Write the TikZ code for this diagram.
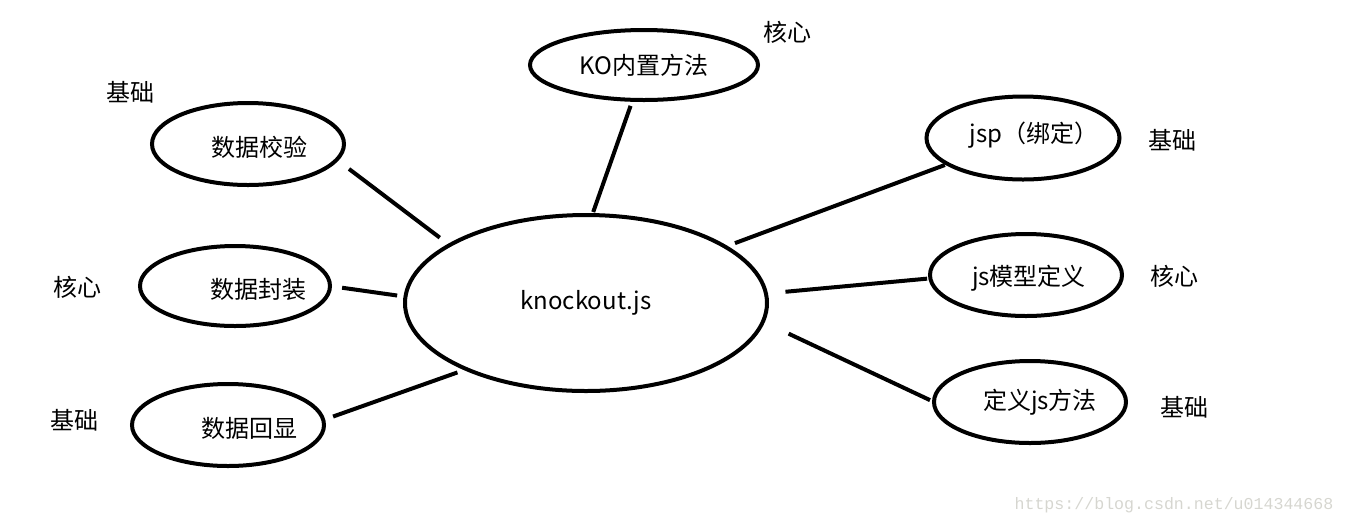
\documentclass[tikz,border=0pt]{standalone}
\usepackage{fontspec}
\setmainfont{Noto Sans CJK SC}
\setmonofont{Liberation Mono}
\usepackage{tikz}
\usetikzlibrary{shapes.geometric}
\definecolor{ink}{RGB}{0,0,0}
\definecolor{wmark}{RGB}{214,214,208}

\begin{document}
\begin{tikzpicture}[
    x=0.5pt, y=-0.5pt,
    bub/.style={ellipse, draw=ink, line width=2pt, inner sep=0pt, outer sep=0pt,
                minimum width=96pt, minimum height=41pt},
    txt/.style={font=\fontsize{12}{14}\selectfont, text=ink},
    tag/.style={font=\fontsize{12}{14}\selectfont, text=ink},
    link/.style={draw=ink, line width=2pt},
    wm/.style={font=\ttfamily\fontsize{8.3}{10}\selectfont, text=wmark}
  ]
  \useasboundingbox (0,0) rectangle (1346,527);
  % hub
  \node[bub, txt, minimum width=181pt, minimum height=88pt] (core) at (586,303) {knockout.js};

  % branches
  \node[bub, txt, minimum width=114pt, minimum height=35pt] (ko) at (644,65) {KO内置方法};
  \node[bub, label={[txt, xshift=5.5pt, yshift=-1.5pt]center:数据校验}] (chk) at (248,144) {};
  \node[bub, minimum width=95pt, minimum height=40pt,
        label={[txt, xshift=11.5pt, yshift=-1.5pt]center:数据封装}] (pack) at (235,286) {};
  \node[bub, label={[txt, xshift=10.5pt, yshift=-1.5pt]center:数据回显}] (echo) at (228,425) {};
  \node[bub, minimum width=96.5pt, minimum height=41.5pt,
        label={[txt, xshift=5.5pt, yshift=1.5pt]center:jsp（绑定）}] (jsp) at (1023,138) {};
  \node[bub, label={[txt, xshift=1.5pt, yshift=-1.5pt]center:js模型定义}] (model) at (1026,275) {};
  \node[bub, label={[txt, xshift=5pt]center:定义js方法}] (meth) at (1030,402) {};

  % spokes
  \foreach \a/\n/\b/\s/\e in {86.8/ko/252.8/1.6pt/3.2pt, 157.3/chk/350.8/6.2pt/7.7pt,
      178.6/pack/0.7/4.2pt/6.1pt, 209.6/echo/3.4/4.9pt/5.2pt, 22.7/jsp/199.1/5.2pt/1.5pt,
      3.7/model/182.2/9.8pt/1.6pt, 354.3/meth/180/14.2pt/2.2pt}
    \draw[link, shorten <=\s, shorten >=\e] (core.\a) -- (\n.\b);

  % levels
  \node[tag] (tko) at (787,32) {核心};
  \node[tag] (tchk) at (130,92) {基础};
  \node[tag] (tpack) at (78,287) {核心};
  \node[tag] (techo) at (74,420) {基础};
  \node[tag] (tjsp) at (1172,140) {基础};
  \node[tag] (tmodel) at (1174,276) {核心};
  \node[tag] (tmeth) at (1184,407) {基础};

  \node[wm] (src) at (1174,505) {https://blog.csdn.net/u014344668};
\end{tikzpicture}
\end{document}
